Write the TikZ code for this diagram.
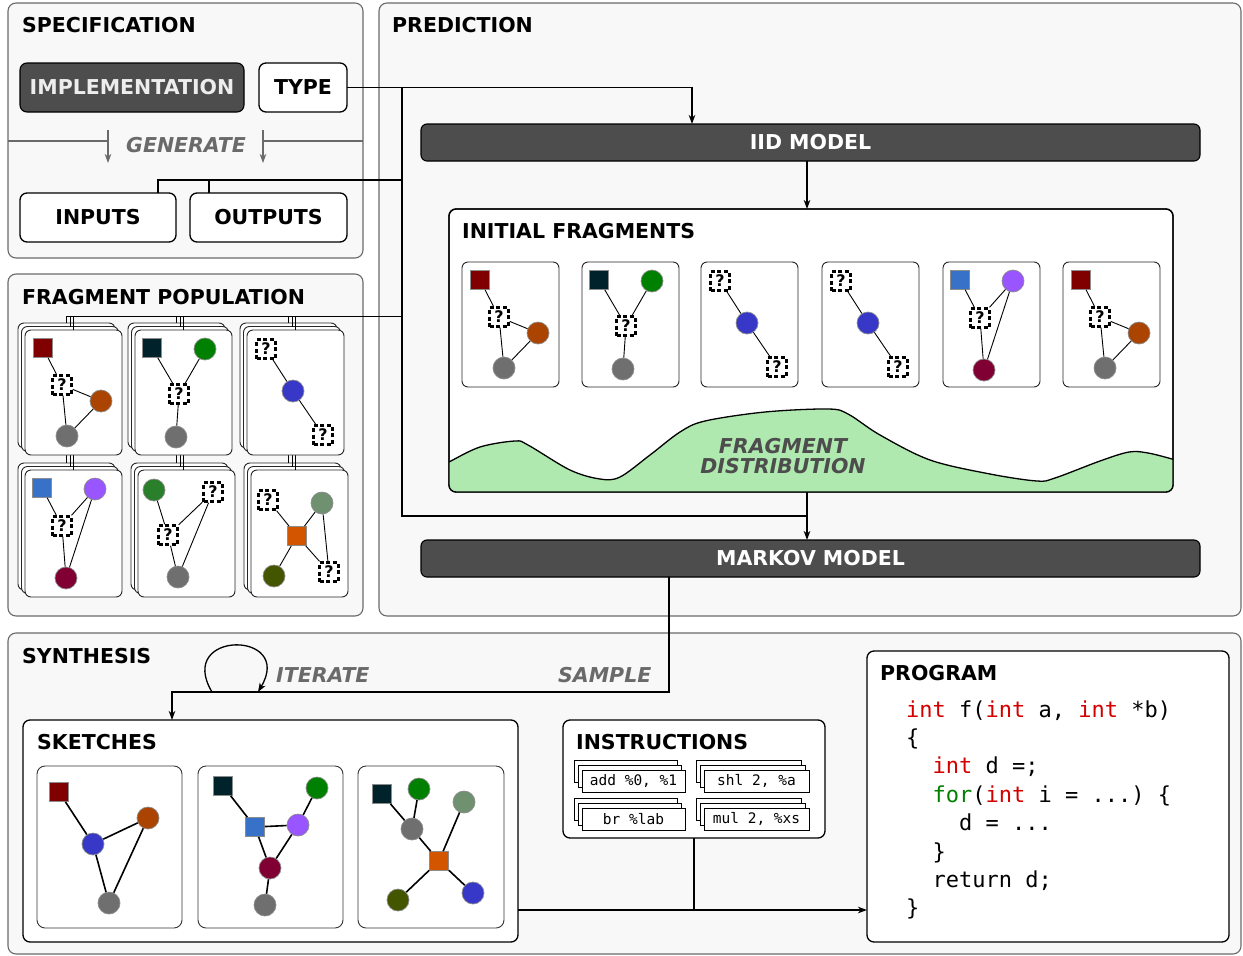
\documentclass[tikz,border=0pt]{standalone}
\usepackage{fontspec}
\setmainfont{DejaVu Sans}[BoldFont={DejaVu Sans Bold},ItalicFont={DejaVu Sans Oblique},BoldItalicFont={DejaVu Sans Bold Oblique}]
\setmonofont{DejaVu Sans Mono}
\usetikzlibrary{arrows.meta}

\definecolor{cPanel}{HTML}{F8F8F8}
\definecolor{cPanelLine}{HTML}{6A6A6A}
\definecolor{cDark}{HTML}{4D4D4D}
\definecolor{cLabel}{HTML}{6A6A6A}
\definecolor{cDistText}{HTML}{4D4D4D}
\definecolor{cDist}{HTML}{AFE9AF}
\definecolor{cRed}{HTML}{800000}
\definecolor{cTeal}{HTML}{00222B}
\definecolor{cGreen}{HTML}{008000}
\definecolor{cOrange}{HTML}{AA4400}
\definecolor{cGrey}{HTML}{6F6F6F}
\definecolor{cBlue}{HTML}{3737C8}
\definecolor{cPurple}{HTML}{9955FF}
\definecolor{cMaroon}{HTML}{800033}
\definecolor{cLBlue}{HTML}{3771C8}
\definecolor{cDGreen}{HTML}{2A7F2A}
\definecolor{cSage}{HTML}{6F916F}
\definecolor{cOrSq}{HTML}{D45500}
\definecolor{cOlive}{HTML}{445500}
\definecolor{cKw}{HTML}{D40000}
\definecolor{cKf}{HTML}{008000}

\pgfdeclarelayer{front}
\pgfsetlayers{main,front}

\newcommand\lbl{\bfseries\fontsize{20.5}{24}\selectfont}
\newcommand\kw[1]{\textcolor{cKw}{#1}}
\newcommand\kf[1]{\textcolor{cKf}{#1}}

\tikzset{
  panel/.style={draw=cPanelLine, line width=1.1pt, fill=cPanel, rounded corners=8pt,
    inner sep=0pt, outer sep=0pt, anchor=north west},
  whitebox/.style={draw=black, line width=1.3pt, fill=white, rounded corners=7pt,
    inner sep=0pt, outer sep=0pt, anchor=north west, font=\lbl},
  darkbox/.style={draw=black, line width=1.1pt, fill=cDark, rounded corners=6pt,
    inner sep=0pt, outer sep=0pt, anchor=north west, font=\lbl, text=white},
  title/.style={anchor=base west, inner sep=0pt, font=\lbl},
  steplabel/.style={anchor=base west, inner sep=0pt, font=\lbl\itshape, text=cLabel},
  conn/.style={draw=black, line width=1.3pt},
  thinconn/.style={draw=black, line width=1pt},
  gline/.style={draw=cLabel, line width=1.3pt},
  arr/.style={-{Stealth[length=9pt,width=6.5pt,inset=2.5pt]}},
  card/.style={draw=black!85, line width=0.9pt, fill=white, rounded corners=6pt,
    minimum width=97pt, inner sep=0pt, outer sep=0pt, anchor=north west},
  skcard/.style={draw=black!80, line width=0.9pt, fill=white, rounded corners=8pt,
    minimum height=162pt, inner sep=0pt, outer sep=0pt, anchor=north west},
  ibox/.style={draw=black, line width=0.9pt, fill=white, minimum height=22pt,
    inner sep=0pt, outer sep=0pt},
  itext/.style={font=\ttfamily\fontsize{14.5}{16}\selectfont},
  sqn/.style={draw=black!45, line width=0.7pt, minimum size=19pt, inner sep=0pt},
  cn/.style={circle, draw=black!45, line width=0.7pt, minimum size=22pt, inner sep=0pt},
  qn/.style={draw=black, fill=white, line width=2.4pt, dash pattern=on 4pt off 2.6pt,
    minimum size=19pt, inner sep=0pt, font=\bfseries\fontsize{16}{16}\selectfont},
  fedge/.style={draw=black, line width=0.9pt},
  skedge/.style={draw=black, line width=1.6pt},
  code/.style={anchor=base west, inner sep=0pt, font=\ttfamily\fontsize{22}{26}\selectfont},
}

% fragment graphs, placed relative to the top-left corner of their card
\newcommand\fragA[2]{\begin{scope}[shift={#2}]
  \node[sqn, fill=cRed] (#1-s) at (18,18) {};
  \node[qn] (#1-q) at (37,55) {?};
  \node[cn, fill=cOrange] (#1-o) at (76,71) {};
  \node[cn, fill=cGrey] (#1-g) at (42,106) {};
  \draw[fedge] (#1-s) -- (#1-q) (#1-q) -- (#1-o) (#1-q) -- (#1-g) (#1-o) -- (#1-g);
\end{scope}}
\newcommand\fragB[2]{\begin{scope}[shift={#2}]
  \node[sqn, fill=cTeal] (#1-s) at (17,18) {};
  \node[cn, fill=cGreen] (#1-r) at (70,19) {};
  \node[qn] (#1-q) at (44,64) {?};
  \node[cn, fill=cGrey] (#1-g) at (41,107) {};
  \draw[fedge] (#1-s) -- (#1-q) (#1-r) -- (#1-q) (#1-q) -- (#1-g);
\end{scope}}
\newcommand\fragC[2]{\begin{scope}[shift={#2}]
  \node[qn] (#1-q) at (19,19) {?};
  \node[cn, fill=cBlue] (#1-b) at (46,61) {};
  \node[qn] (#1-p) at (76,105) {?};
  \draw[fedge] (#1-q) -- (#1-b) (#1-b) -- (#1-p);
\end{scope}}
\newcommand\fragD[2]{\begin{scope}[shift={#2}]
  \node[sqn, fill=cLBlue] (#1-s) at (17,18) {};
  \node[cn, fill=cPurple] (#1-u) at (70,19) {};
  \node[qn] (#1-q) at (37,56) {?};
  \node[cn, fill=cMaroon] (#1-m) at (41,108) {};
  \draw[fedge] (#1-s) -- (#1-q) (#1-u) -- (#1-q) (#1-q) -- (#1-m) (#1-u) -- (#1-m);
\end{scope}}
\newcommand\fragE[2]{\begin{scope}[shift={#2}]
  \node[cn, fill=cDGreen] (#1-r) at (16,20) {};
  \node[qn] (#1-q) at (75,22) {?};
  \node[qn] (#1-p) at (30,65) {?};
  \node[cn, fill=cGrey] (#1-g) at (40,107) {};
  \draw[fedge] (#1-r) -- (#1-p) (#1-q) -- (#1-p) (#1-p) -- (#1-g) (#1-q) -- (#1-g);
\end{scope}}
\newcommand\fragF[2]{\begin{scope}[shift={#2}]
  \node[qn] (#1-q) at (17,30) {?};
  \node[cn, fill=cSage] (#1-a) at (71,33) {};
  \node[sqn, fill=cOrSq] (#1-s) at (46,66) {};
  \node[cn, fill=cOlive] (#1-o) at (23,106) {};
  \node[qn] (#1-p) at (78,102) {?};
  \draw[fedge] (#1-q) -- (#1-s) (#1-a) -- (#1-s) (#1-s) -- (#1-o) (#1-s) -- (#1-p) (#1-a) -- (#1-p);
\end{scope}}

% a stack of three cards; #2,#3 is the top-left corner of the front card
\newcommand\cardstack[4]{%
  \node[card, minimum height=#4] (#10) at (#2-7,#3-7) {};
  \node[card, minimum height=#4] (#11) at (#2-3.5,#3-3.5) {};
  \node[card, minimum height=#4] (#12) at (#2,#3) {};}

% a stack of three instruction slips; #2,#3 is the centre of the front slip
\newcommand\instack[5]{%
  \node[ibox, minimum width=#4] (#10) at (#2-8,#3-10) {};
  \node[ibox, minimum width=#4] (#11) at (#2-4,#3-5) {};
  \node[ibox, itext, minimum width=#4] (#12) at (#2,#3) {#5};}

\begin{document}
\begin{tikzpicture}[x=1pt,y=-1pt]
\useasboundingbox (0,0) rectangle (1243,956);

% ---------- panels ----------
\node[panel, minimum width=355, minimum height=255] (spec) at (8,3) {};
\node[panel, minimum width=355, minimum height=342] (pop) at (8,274) {};
\node[panel, minimum width=862, minimum height=613] (pred) at (379,3) {};
\node[panel, minimum width=1233, minimum height=321] (synth) at (8,633) {};

\node[title] (t-spec) at (22,32) {SPECIFICATION};
\node[title] (t-pop) at (22,304) {FRAGMENT POPULATION};
\node[title] (t-pred) at (392,32) {PREDICTION};
\node[title] (t-syn) at (22,663) {SYNTHESIS};

% ---------- specification ----------
\node[darkbox, minimum width=224, minimum height=49, rounded corners=7pt, text=white!93!black] (impl) at (20,63) {IMPLEMENTATION};
\node[whitebox, minimum width=88, minimum height=49] (type) at (259,63) {TYPE};
\node[whitebox, minimum width=156, minimum height=49] (inputs) at (20,193) {INPUTS};
\node[whitebox, minimum width=157, minimum height=49] (outputs) at (190,193) {OUTPUTS};

\coordinate (gA) at (108,141);
\coordinate (gB) at (263,141);
\draw[gline] (spec.west |- gA) -- (gA);
\draw[gline] (spec.east |- gB) -- (gB);
\draw[gline, arr] ([yshift=11pt]gA) -- ([yshift=-22pt]gA);
\draw[gline, arr] ([yshift=11pt]gB) -- ([yshift=-22pt]gB);
\node[steplabel] (gen) at (126,152) {GENERATE};

% ---------- prediction ----------
\node[darkbox, minimum width=779, minimum height=37] (iid) at (421,124) {IID MODEL};
\node[whitebox, minimum width=724, minimum height=283] (initf) at (449,209) {};
\node[darkbox, minimum width=779, minimum height=37] (markov) at (421,540) {MARKOV MODEL};

\begin{scope}
  \clip[rounded corners=7pt] (initf.north west) rectangle (initf.south east);
  \filldraw[fill=cDist, draw=black, line width=1.3pt]
    plot[smooth, tension=0.55] coordinates {(438,468) (449,462) (480,447) (515,441) (528,445)
      (570,470) (600,479) (620,477) (650,455) (680,432) (705,421) (765,412) (828,409)
      (848,414) (880,435) (930,460) (990,474) (1037,481) (1055,478) (1100,461)
      (1129,452) (1148,453) (1172,459) (1184,463)}
    -- (1192,520) -- (430,520) -- cycle;
\end{scope}
\draw[line width=1.3pt, rounded corners=7pt] (initf.north west) rectangle (initf.south east);
\node[title] (t-init) at (462,238) {INITIAL FRAGMENTS};
\node[align=center, inner sep=0pt, text=cDistText,
  font=\bfseries\itshape\fontsize{20.5}{20.5}\selectfont] (fdist) at (783,456) {FRAGMENT\\DISTRIBUTION};

% initial fragments
\node[card, minimum height=125] (if1) at (462,262) {};
\node[card, minimum height=125] (if2) at (582,262) {};
\node[card, minimum height=125] (if3) at (701,262) {};
\node[card, minimum height=125] (if4) at (822,262) {};
\node[card, minimum height=125] (if5) at (943,262) {};
\node[card, minimum height=125] (if6) at (1063,262) {};
\fragA{i1}{(462,262)}
\fragB{i2}{(582,262)}
\fragC{i3}{(701,262)}
\fragC{i4}{(822,262)}
\fragD{i5}{(943,262)}
\fragA{i6}{(1063,262)}

% ---------- fragment population ----------
\coordinate (bus) at (402,0);
\coordinate (popbus) at (402,316);
% upper row sits on its own layer so the links to the lower row pass beneath it
\begin{pgfonlayer}{front}
\cardstack{pA}{25}{330}{125}
\cardstack{pB}{135}{330}{125}
\cardstack{pC}{247}{330}{125}
\fragA{pa}{(25,330)}
\fragB{pb}{(135,330)}
\fragC{pc}{(247,330)}
\draw[thinconn] (popbus) -- (pA0.north |- popbus);
\foreach \s in {A,B,C}{
  \foreach \i in {0,1,2}{
    \draw[thinconn] (p\s\i.north |- popbus) -- (p\s\i.north);
  }
}
\end{pgfonlayer}
\cardstack{pD}{25}{470}{127}
\cardstack{pE}{138}{470}{127}
\cardstack{pF}{251}{470}{127}
\fragD{pd}{(25,470)}
\fragE{pe}{(138,470)}
\fragF{pf}{(251,470)}
\foreach \u/\l in {A/D,B/E,C/F}{
  \foreach \i in {0,1,2}{
    \draw[thinconn] (p\u\i.south) -- (p\u\i.south |- p\l\i.north);
  }
}

% ---------- prediction connectors ----------
\coordinate (spine) at (807,0);
\coordinate (busend) at (402,516);
\coordinate (iobus) at (402,180);
\draw[conn, arr] (type.east) -| ([xshift=-118.5pt]iid.north);
\draw[conn] (type.east -| bus) -- (busend) -- (busend -| spine);
\draw[conn] ([xshift=60pt]inputs.north) |- (iobus);
\draw[conn] ([xshift=-59.5pt]outputs.north) -- ([xshift=-59.5pt]outputs.north |- iobus);
\draw[conn, arr] (iid.south -| spine) -- (initf.north -| spine);
\draw[conn, arr] (initf.south -| spine) -- (markov.north -| spine);

% ---------- synthesis ----------
\node[whitebox, minimum width=495, minimum height=222] (sketches) at (23,720) {};
\node[whitebox, minimum width=262, minimum height=118] (instr) at (563,720) {};
\node[whitebox, minimum width=362, minimum height=291] (program) at (867,651) {};
\node[title] (t-sk) at (37,749) {SKETCHES};
\node[title] (t-ins) at (576,749) {INSTRUCTIONS};
\node[title] (t-prog) at (880,680) {PROGRAM};

\coordinate (sampx) at (669,0);
\coordinate (turn) at (0,692);
\coordinate (skx) at (172,0);
\draw[conn, arr] (markov.south -| sampx) -- (turn -| sampx) -| (sketches.north -| skx);
\coordinate (loop0) at (212,692);
\coordinate (loop1) at (258,692);
\draw[conn, arr] (loop0) .. controls (175,630) and (295,630) .. (loop1);
\node[steplabel] (iter) at (276,682) {ITERATE};
\node[steplabel] (samp) at (558,682) {SAMPLE};

% sketches
\node[skcard, minimum width=145] (sk1) at (37,766) {};
\node[skcard, minimum width=145] (sk2) at (198,766) {};
\node[skcard, minimum width=146] (sk3) at (358,766) {};

\node[sqn, fill=cRed] (s1-s) at (59,792) {};
\node[cn, fill=cBlue] (s1-b) at (93,844) {};
\node[cn, fill=cOrange] (s1-o) at (148,818) {};
\node[cn, fill=cGrey] (s1-g) at (109,903) {};
\draw[skedge] (s1-s) -- (s1-b) (s1-b) -- (s1-o) (s1-b) -- (s1-g) (s1-o) -- (s1-g);

\node[sqn, fill=cTeal] (s2-t) at (223,786) {};
\node[cn, fill=cGreen] (s2-r) at (317,788) {};
\node[sqn, fill=cLBlue] (s2-l) at (255,827) {};
\node[cn, fill=cPurple] (s2-u) at (298,825) {};
\node[cn, fill=cMaroon] (s2-m) at (270,868) {};
\node[cn, fill=cGrey] (s2-g) at (265,905) {};
\draw[skedge] (s2-t) -- (s2-l) (s2-l) -- (s2-u) (s2-r) -- (s2-u) (s2-l) -- (s2-m) (s2-u) -- (s2-m) (s2-m) -- (s2-g);

\node[sqn, fill=cTeal] (s3-t) at (382,794) {};
\node[cn, fill=cGreen] (s3-r) at (419,789) {};
\node[cn, fill=cSage] (s3-a) at (464,802) {};
\node[cn, fill=cGrey] (s3-g) at (412,829) {};
\node[sqn, fill=cOrSq] (s3-s) at (439,861) {};
\node[cn, fill=cOlive] (s3-o) at (398,900) {};
\node[cn, fill=cBlue] (s3-b) at (473,893) {};
\draw[skedge] (s3-t) -- (s3-g) (s3-r) -- (s3-g) (s3-g) -- (s3-s) (s3-a) -- (s3-s) (s3-s) -- (s3-o) (s3-s) -- (s3-b);

% instructions
\instack{iAdd}{633.5}{781}{103}{add \%0, \%1}
\instack{iShl}{756.5}{781}{105}{shl 2, \%a}
\instack{iBr}{633.5}{819}{103}{br \%lab}
\instack{iMul}{756.5}{819}{105}{mul 2, \%xs}

% program
\node[code] (c1) at (906,717) {\kw{int} f(\kw{int} a, \kw{int} *b)};
\node[code] (c2) at (906,745.4) {\{};
\node[code] (c3) at (906,773.8) {\ \ \kw{int} d =;};
\node[code] (c4) at (906,802.2) {\ \ \kf{for}(\kw{int} i = ...) \{};
\node[code] (c5) at (906,830.6) {\ \ \ \ d = ...};
\node[code] (c6) at (906,859) {\ \ \}};
\node[code] (c7) at (906,887.4) {\ \ return d;};
\node[code] (c8) at (906,915.8) {\}};

\coordinate (outy) at (0,910);
\draw[conn] (instr.south) -- (instr.south |- outy);
\draw[conn, arr] (sketches.east |- outy) -- (program.west |- outy);
\end{tikzpicture}
\end{document}
